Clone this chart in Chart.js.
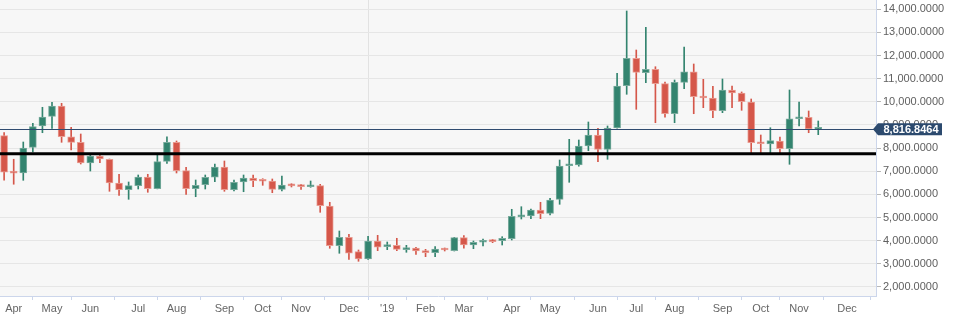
<!DOCTYPE html>
<html><head><meta charset="utf-8">
<script src="https://cdn.jsdelivr.net/npm/chart.js@4/dist/chart.umd.min.js"></script>
<style>html,body{margin:0;padding:0;background:#fff}#wrap{width:968px;height:324px}</style>
</head><body><div id="wrap"><canvas id="c" width="968" height="324"></canvas></div>
<script>
// Weekly candles (index 0 = first visible week)
const opens  = [8540,6950,6926,8036,8957,9376,9821,8494,8252,7358,7660,7518,6494,6204,6377,6753,6247,7431,8252,7025,6247,6420,6740,7185,6204,6537,6710,6600,6580,6221,6407,6407,6330,6377,5500,3784,4147,3525,3209,3987,3741,3801,3611,3685,3568,3481,3655,3568,4130,3814,3931,4017,4000,4086,5030,5067,5327,5184,5789,7240,7270,8093,8568,7950,8870,10698,11883,11260,11407,10785,9488,10845,11303,10240,10167,9618,10513,10383,9994,8250,8179,8308,7976,9272,9333,8810];
const highs  = [8670,7520,8265,9073,9765,9981,9938,8901,8611,7734,7717,7530,6870,6537,6839,6870,7704,8494,8309,7172,6623,6839,7315,7444,6623,6839,6839,6679,6667,6796,6463,6440,6580,6437,5660,4419,4277,3598,4190,4233,3944,4104,3801,3715,3628,3741,3685,4144,4216,3987,4073,4060,4173,5357,5469,5370,5660,5832,7487,8382,8352,9130,8857,8957,11234,13927,12241,13222,11519,10858,10945,12371,11636,10975,10672,10988,10685,10428,10124,8568,8883,8481,10513,9994,9605,9173];
const lows   = [6620,6440,6610,7833,8667,8857,8252,7920,7315,7012,7371,6135,5962,5789,6234,6092,6240,7345,6926,6005,5901,6234,6550,6135,6148,6117,6334,6394,6074,6148,6321,6221,6308,5227,3672,3456,3196,3110,3196,3568,3611,3568,3499,3412,3309,3309,3555,3555,3672,3655,3771,3915,3814,4030,4938,4951,4951,5111,5573,6524,7220,7889,7414,7518,8860,10327,9678,10828,9099,9333,9099,10569,9488,9748,9316,9532,9748,9635,7780,7760,7770,7750,7302,8957,8667,8581];
const closes = [6960,6920,8006,8927,9346,9821,8494,8252,7358,7660,7531,6494,6204,6377,6753,6247,7414,8252,7025,6247,6394,6740,7185,6204,6524,6710,6593,6570,6221,6407,6370,6334,6360,5513,3784,4147,3456,3209,3987,3715,3801,3628,3685,3555,3481,3641,3598,4130,3814,3931,4017,3957,4104,5054,5060,5327,5167,5759,7228,7280,8093,8568,7950,8870,10685,11883,11277,11407,10785,9488,10845,11303,10223,10167,9618,10513,10383,10007,8235,8190,8322,7976,9272,9346,8827,8817];

const monthTickIdx    = [1,5,9,14,18,23,27,31,36,40,44,48,53,57,62,66,70,75,79,83,88];
const monthTickLabels = ['Apr','May','Jun','Jul','Aug','Sep','Oct','Nov','Dec',"'19",'Feb','Mar','Apr','May','Jun','Jul','Aug','Sep','Oct','Nov','Dec'];
const yearTickIdx = 40;
const yTickValues = [2000,3000,4000,5000,6000,7000,8000,9000,10000,11000,12000,13000,14000];
const supportLevel = 7760;
const lastPrice = 8816.8464;

const UP = '#33846f', UP_B = '#79ab9d', DN = '#d5574a', DN_B = '#e99c92';
const isUp = opens.map((o,i)=>closes[i]>=o);
const bodyData = opens.map((o,i)=>({x:i, y:[o, closes[i]]}));
const wickData = lows.map((l,i)=>({x:i, y:[l, highs[i]]}));

const fmt = v => Number(v).toLocaleString('en-US',{minimumFractionDigits:4, maximumFractionDigits:4});

const bgPlugin = {
  id:'bg',
  beforeDraw(chart){
    const {ctx, chartArea:a} = chart;
    ctx.save(); ctx.fillStyle='#f7f7f7'; ctx.fillRect(a.left,a.top,a.right-a.left,a.bottom-a.top); ctx.restore();
  }
};
const linesPlugin = {
  id:'lines',
  afterDatasetsDraw(chart){
    const {ctx, chartArea:a, scales:{y}} = chart;
    ctx.save();
    ctx.beginPath(); ctx.rect(a.left,a.top,a.right-a.left,a.bottom-a.top); ctx.clip();
    const yp = Math.round(y.getPixelForValue(lastPrice))+0.5;
    ctx.strokeStyle='#2f4b70'; ctx.lineWidth=1;
    ctx.beginPath(); ctx.moveTo(a.left,yp); ctx.lineTo(a.right,yp); ctx.stroke();
    const ys = y.getPixelForValue(supportLevel);
    ctx.strokeStyle='#000'; ctx.lineWidth=3;
    ctx.beginPath(); ctx.moveTo(a.left,ys); ctx.lineTo(a.right,ys); ctx.stroke();
    ctx.restore();
  },
  afterDraw(chart){
    const {ctx, chartArea:a, scales:{y}} = chart;
    const yp = y.getPixelForValue(lastPrice);
    const x0 = a.right-3, x1 = a.right+2, x2 = a.right+66, h = 12;
    ctx.save();
    ctx.fillStyle='#2c4a6e';
    ctx.beginPath();
    ctx.moveTo(x0,yp); ctx.lineTo(x1,yp-h/2); ctx.lineTo(x2,yp-h/2); ctx.lineTo(x2,yp+h/2); ctx.lineTo(x1,yp+h/2); ctx.closePath(); ctx.fill();
    ctx.fillStyle='#fff'; ctx.font='bold 11px "Liberation Sans", Arial, sans-serif';
    ctx.textAlign='center'; ctx.textBaseline='middle';
    ctx.fillText(fmt(lastPrice),(x1+x2)/2+1,yp+0.5);
    ctx.restore();
  }
};

new Chart(document.getElementById('c'),{
  type:'bar',
  data:{datasets:[
    {label:'body', data:bodyData, order:0, grouped:false, barThickness:7, minBarLength:2,
     backgroundColor:isUp.map(u=>u?UP:DN), borderColor:isUp.map(u=>u?UP_B:DN_B), borderWidth:1, borderSkipped:false},
    {label:'wick', data:wickData, order:1, grouped:false, barThickness:1,
     backgroundColor:isUp.map(u=>u?UP:DN), borderWidth:0}
  ]},
  options:{
    responsive:false, animation:false, devicePixelRatio:1,
    layout:{padding:0},
    plugins:{legend:{display:false}, tooltip:{enabled:false}},
    scales:{
      x:{type:'linear', min:-0.43, max:91.03, offset:false,
        afterBuildTicks:s=>{s.ticks = monthTickIdx.map(v=>({value:v}));},
        afterFit:s=>{s.height=28; s.paddingLeft=0; s.paddingRight=0;},
        ticks:{autoSkip:false, maxRotation:0, padding:2, color:'#666',
          font:{family:'"Liberation Sans", Arial, sans-serif', size:11},
          callback:v=>{const k=monthTickIdx.indexOf(v); return k>=0?monthTickLabels[k]:'';}},
        grid:{color:c=>(c.tick && c.tick.value===yearTickIdx)?'#e2e2e2':'rgba(0,0,0,0)', tickColor:'#ccd6eb', tickLength:4, lineWidth:1},
        border:{display:true, color:'#ccd6eb'}
      },
      y:{type:'linear', position:'right', min:1610, max:14402,
        afterBuildTicks:s=>{s.ticks = yTickValues.map(v=>({value:v}));},
        afterFit:s=>{s.width=92; s.paddingTop=0; s.paddingBottom=0;},
        ticks:{padding:2, color:'#606060', font:{family:'"Liberation Sans", Arial, sans-serif', size:11},
          callback:v=>fmt(v)},
        grid:{color:'#e6e6e6', tickColor:'#b8b8b8', tickLength:5, lineWidth:1},
        border:{display:true, color:'#ccd6eb'}
      }
    }
  },
  plugins:[bgPlugin, linesPlugin]
});
</script></body></html>
